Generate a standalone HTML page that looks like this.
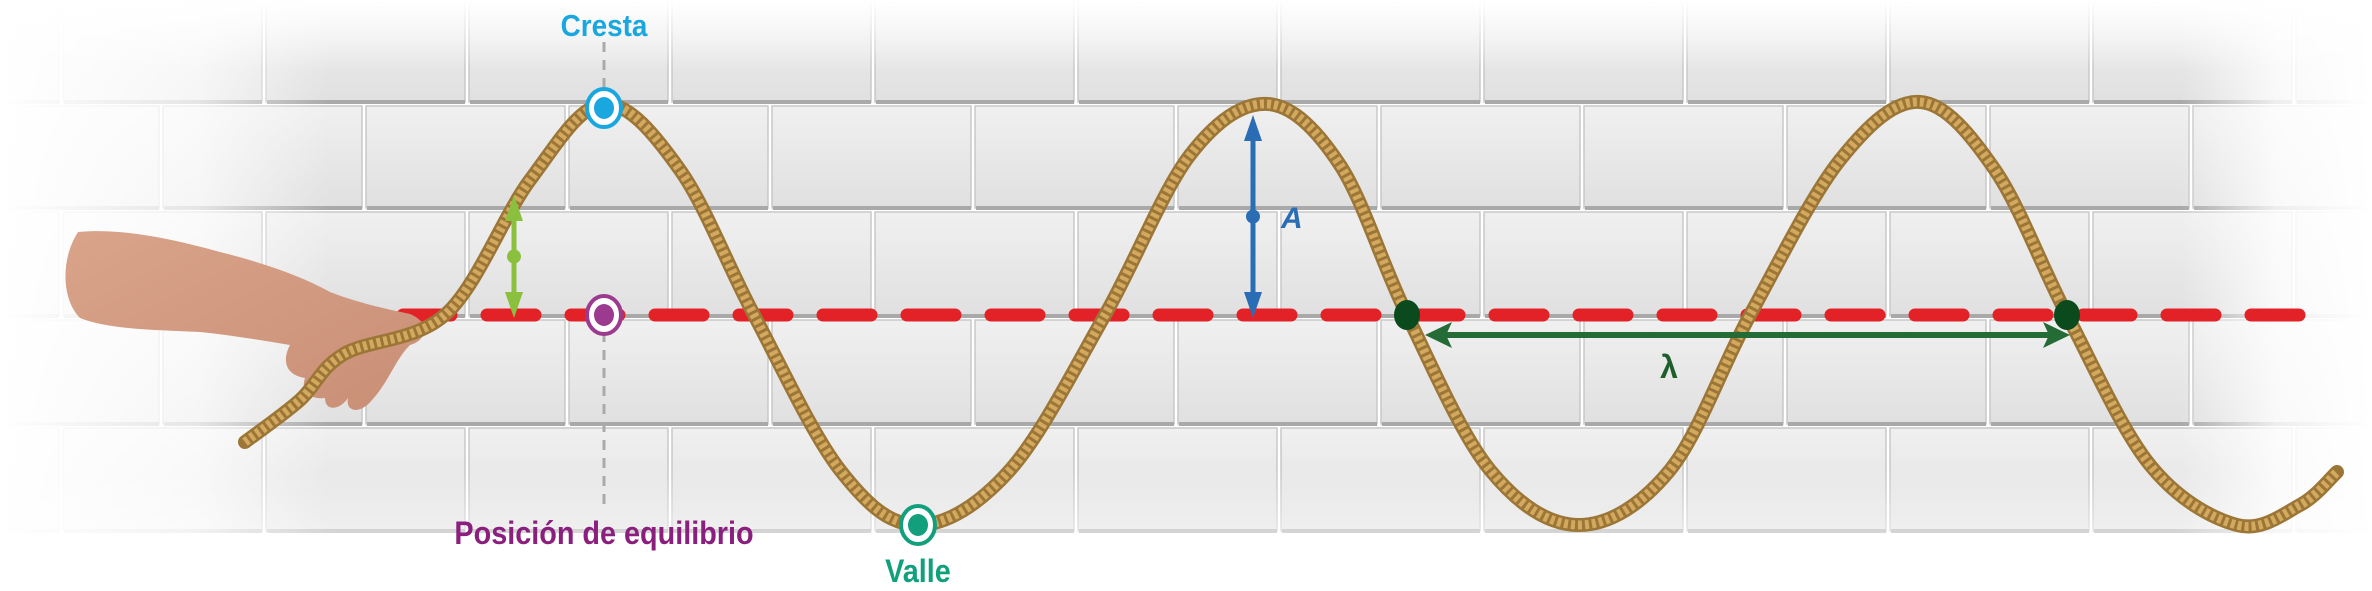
<!DOCTYPE html>
<html><head><meta charset="utf-8"><style>
html,body{margin:0;padding:0;background:#fff;}
svg{display:block;}
text{font-family:"Liberation Sans",sans-serif;font-weight:bold;}
</style></head><body>
<svg id="s" width="2372" height="591" viewBox="0 0 2372 591" xmlns="http://www.w3.org/2000/svg">
<defs>
<linearGradient id="fadeL" x1="0" x2="1" y1="0" y2="0"><stop offset="0" stop-color="#fff" stop-opacity="1"/><stop offset="0.6" stop-color="#fff" stop-opacity="0.7"/><stop offset="1" stop-color="#fff" stop-opacity="0"/></linearGradient>
<linearGradient id="fadeR" x1="1" x2="0" y1="0" y2="0"><stop offset="0" stop-color="#fff" stop-opacity="1"/><stop offset="0.5" stop-color="#fff" stop-opacity="0.8"/><stop offset="1" stop-color="#fff" stop-opacity="0"/></linearGradient>
<linearGradient id="fadeT" x1="0" x2="0" y1="0" y2="1"><stop offset="0" stop-color="#fff" stop-opacity="1"/><stop offset="1" stop-color="#fff" stop-opacity="0"/></linearGradient>
<linearGradient id="fadeB" x1="0" x2="0" y1="1" y2="0"><stop offset="0" stop-color="#fff" stop-opacity="1"/><stop offset="1" stop-color="#fff" stop-opacity="0"/></linearGradient>
<linearGradient id="tileG" x1="0" x2="0" y1="0" y2="1"><stop offset="0" stop-color="#f0f0f0"/><stop offset="1" stop-color="#e0e0e0"/></linearGradient>
<linearGradient id="skin" x1="0" x2="1" y1="0" y2="1"><stop offset="0" stop-color="#d9a48a"/><stop offset="1" stop-color="#c98f76"/></linearGradient>
</defs>
<g id="tiles"></g>
<rect x="0" y="0" width="330" height="591" fill="url(#fadeL)"/>
<rect x="2180" y="0" width="192" height="591" fill="url(#fadeR)"/>
<rect x="0" y="0" width="2372" height="70" fill="url(#fadeT)"/>
<rect x="0" y="470" width="2372" height="121" fill="url(#fadeB)"/>
<line x1="604" y1="42" x2="604" y2="100" stroke="#aaa" stroke-width="3" stroke-dasharray="10 8"/>
<line x1="604" y1="332" x2="604" y2="505" stroke="#aaa" stroke-width="3" stroke-dasharray="10 8"/>
<g id="dash"></g>
<path d="M78,232 C120,228 170,238 220,252 C260,262 300,275 330,292 C350,300 380,308 410,314 C430,322 428,340 410,345 C395,360 390,380 372,400 C360,415 345,412 348,398 C340,410 325,412 325,398 C312,400 300,392 305,378 C285,375 282,360 290,345 C260,340 230,335 200,332 C160,330 110,330 80,318 C62,300 60,260 78,232 Z" fill="url(#skin)"/>
<g id="rope"></g>
<g id="marks"></g>
<text x="604" y="36" text-anchor="middle" font-size="31" fill="#1aa7e0" transform="translate(604,0) scale(0.9,1) translate(-604,0)">Cresta</text>
<text x="604" y="544" text-anchor="middle" font-size="32" fill="#8a1f7e" transform="translate(604,0) scale(0.9,1) translate(-604,0)">Posición de equilibrio</text>
<text x="918" y="582" text-anchor="middle" font-size="32" fill="#12a07c" transform="translate(918,0) scale(0.9,1) translate(-918,0)">Valle</text>
<text x="1281" y="228" font-size="30" font-style="italic" fill="#2a6db5">A</text>
<text x="1669" y="378" text-anchor="middle" font-size="32" fill="#1e5e2c">λ</text>
</svg>
<script>
var NS="http://www.w3.org/2000/svg";
function mk(t,a,p){var e=document.createElementNS(NS,t);for(var k in a)e.setAttribute(k,a[k]);p.appendChild(e);return e;}
// rope key points (x,y)
var ropeX=[245,300,344,447,530,604,680,754,840,918,1010,1105,1190,1268,1340,1407,1490,1579,1670,1750,1840,1920,1995,2067,2150,2237,2300,2337];
var ropeY=[442,400,354,313,180,104,170,315,470,525,470,315,155,104,165,315,470,525,470,315,160,102,170,315,465,525,505,472];
var tileRows=[0,104,210,318,426,533];
var eqY=315;
var tg=document.getElementById('tiles');
for(var r=0;r<5;r++){var y0=tileRows[r],y1=tileRows[r+1];var off=(r%2==0)?264:161;
 for(var x=off-203*2;x<2372;x+=203){
  var t=mk('rect',{x:x+2,y:y0+2,width:199,height:y1-y0-4,fill:'url(#tileG)',stroke:'#c8c8c8','stroke-width':1.5},tg);
  
  
  mk('line',{x1:x+3,y1:y1-2,x2:x+201,y2:y1-2,stroke:'#a9a9a9','stroke-width':4},tg);
 }}
var dg=document.getElementById('dash');
for(var x=403;x<2330;x+=84){
 var d=mk('line',{x1:x,y1:eqY,x2:x+48,y2:eqY,stroke:'#e32227','stroke-width':13,'stroke-linecap':'round'},dg);
 
 
}
var d="M"+ropeX[0]+","+ropeY[0];
for(var i=0;i<ropeX.length-1;i++){
 var x0=ropeX[Math.max(i-1,0)],y0=ropeY[Math.max(i-1,0)],x1=ropeX[i],y1=ropeY[i],x2=ropeX[i+1],y2=ropeY[i+1],x3=ropeX[Math.min(i+2,ropeX.length-1)],y3=ropeY[Math.min(i+2,ropeY.length-1)];
 d+=" C"+(x1+(x2-x0)/6)+","+(y1+(y2-y0)/6)+" "+(x2-(x3-x1)/6)+","+(y2-(y3-y1)/6)+" "+x2+","+y2;
}
var rg=document.getElementById('rope');
var r1=mk('path',{d:d,fill:'none',stroke:'#9c7636','stroke-width':14,'stroke-linecap':'round'},rg);


var r2=mk('path',{d:d,fill:'none',stroke:'#d3a95f','stroke-width':9,'stroke-dasharray':'4 3'},rg);


var m=document.getElementById('marks');
function ring(cx,cy,c,name){var g=mk('g',{},m);
 mk('ellipse',{cx:cx,cy:cy,rx:17,ry:19,fill:'#fff',stroke:c,'stroke-width':4},g);mk('ellipse',{cx:cx,cy:cy,rx:10,ry:11,fill:c},g);}
ring(604,108,'#1aa7e0','crest-marker');
ring(604,315,'#9b3a8f','equilibrium-marker');
ring(918,525,'#12a07c','valley-marker');
function varrow(x,y1,y2,c,w,name){var g=mk('g',{},m);
 mk('line',{x1:x,y1:y1+18,x2:x,y2:y2-18,stroke:c,'stroke-width':w},g);
 mk('polygon',{points:(x-9)+","+(y1+26)+" "+x+","+y1+" "+(x+9)+","+(y1+26)},g);g.lastChild.setAttribute('fill',c);
 mk('polygon',{points:(x-9)+","+(y2-26)+" "+x+","+y2+" "+(x+9)+","+(y2-26)},g);g.lastChild.setAttribute('fill',c);
 mk('circle',{cx:x,cy:(y1+y2)/2,r:7,fill:c},g);}
varrow(1253,115,318,'#2a6db5',5,'amplitude-arrow');
varrow(514,195,318,'#8bc03f',5,'displacement-arrow');
var lg=mk('g',{},m);
mk('line',{x1:1440,y1:335,x2:2055,y2:335,stroke:'#246b35','stroke-width':6},lg);
mk('polygon',{points:"1425,335 1452,322 1446,335 1452,348",fill:'#246b35'},lg);
mk('polygon',{points:"2070,335 2043,322 2049,335 2043,348",fill:'#246b35'},lg);
var n1=mk('ellipse',{cx:1407,cy:315,rx:13,ry:15,fill:'#0b4a1c'},m);


var n2=mk('ellipse',{cx:2067,cy:315,rx:13,ry:15,fill:'#0b4a1c'},m);


</script>
</body></html>
